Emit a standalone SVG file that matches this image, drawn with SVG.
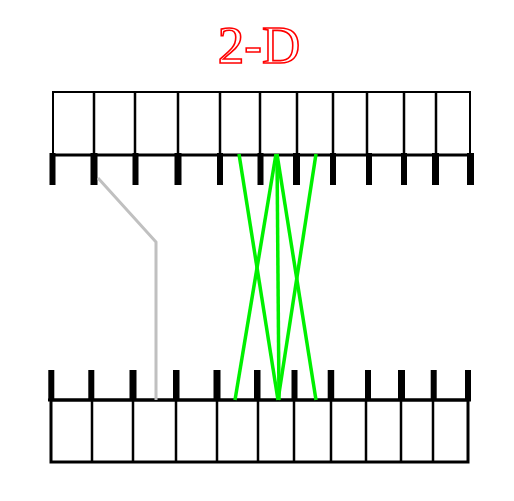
<svg xmlns="http://www.w3.org/2000/svg" width="514" height="501" viewBox="0 0 514 501">
<style>
.box{fill:#fff;stroke:#000;stroke-width:2}
.div{stroke:#000;stroke-width:2.5}
.bar{stroke:#000;stroke-width:3}
.tick{fill:#000}
.green{stroke:#00f000;stroke-width:3.5;fill:none}
.gray{stroke:#c0c0c0;stroke-width:3;fill:none}
.title{font-family:"Liberation Serif",serif;font-size:53px;fill:#fff;stroke:#ff0000;stroke-width:1.6}
</style>
<rect width="514" height="501" fill="#fff"/>
<text class="title" x="259" y="63" text-anchor="middle">2-D</text>
<g id="top-strip">
<rect class="box" x="53" y="92" width="417" height="63"/>
<path class="div" d="M94 92V155M135 92V155M178 92V155M220 92V155M260 92V155M297 92V155M333 92V155M367 92V155M404 92V155M436 92V155"/>
<line class="bar" x1="50" y1="155" x2="473" y2="155"/>
<g class="tick">
<rect x="49.5" y="153" width="6" height="32"/>
<rect x="90.5" y="153" width="7" height="32"/>
<rect x="132.5" y="153" width="6" height="32"/>
<rect x="174.5" y="153" width="7" height="32"/>
<rect x="217" y="153" width="6" height="32"/>
<rect x="257.5" y="153" width="6" height="32"/>
<rect x="293" y="153" width="7" height="32"/>
<rect x="330" y="153" width="6" height="32"/>
<rect x="366" y="153" width="6" height="32"/>
<rect x="401" y="153" width="6" height="32"/>
<rect x="432" y="153" width="7" height="32"/>
<rect x="467" y="153" width="7" height="32"/>
</g>
</g>
<g id="bottom-strip">
<rect class="box" x="51" y="400" width="417" height="62" style="stroke-width:3"/>
<path class="div" d="M92 400V462M133 400V462M176 400V462M217 400V462M258 400V462M294 400V462M331 400V462M366 400V462M401 400V462M433 400V462"/>
<line class="bar" x1="48" y1="400" x2="471" y2="400"/>
<g class="tick">
<rect x="48.3" y="370" width="6" height="30"/>
<rect x="88.3" y="370" width="6" height="30"/>
<rect x="129.5" y="370" width="7" height="30"/>
<rect x="173" y="370" width="6.5" height="30"/>
<rect x="213.5" y="370" width="7" height="30"/>
<rect x="254" y="370" width="6.5" height="30"/>
<rect x="291.5" y="370" width="6" height="30"/>
<rect x="327.7" y="370" width="6.5" height="30"/>
<rect x="365" y="370" width="6" height="30"/>
<rect x="398" y="370" width="7" height="30"/>
<rect x="430.7" y="370" width="6" height="30"/>
<rect x="465" y="370" width="6" height="30"/>
</g>
</g>
<g id="connectors">
<polyline class="gray" points="98,178 156,242 156,400"/>
<line class="green" x1="239" y1="154" x2="278" y2="400"/>
<line class="green" x1="276" y1="154" x2="235" y2="400"/>
<line class="green" x1="277" y1="154" x2="316" y2="400"/>
<line class="green" x1="316" y1="154" x2="278" y2="400"/>
<line class="green" x1="277" y1="154" x2="279" y2="400"/>
</g>
</svg>
